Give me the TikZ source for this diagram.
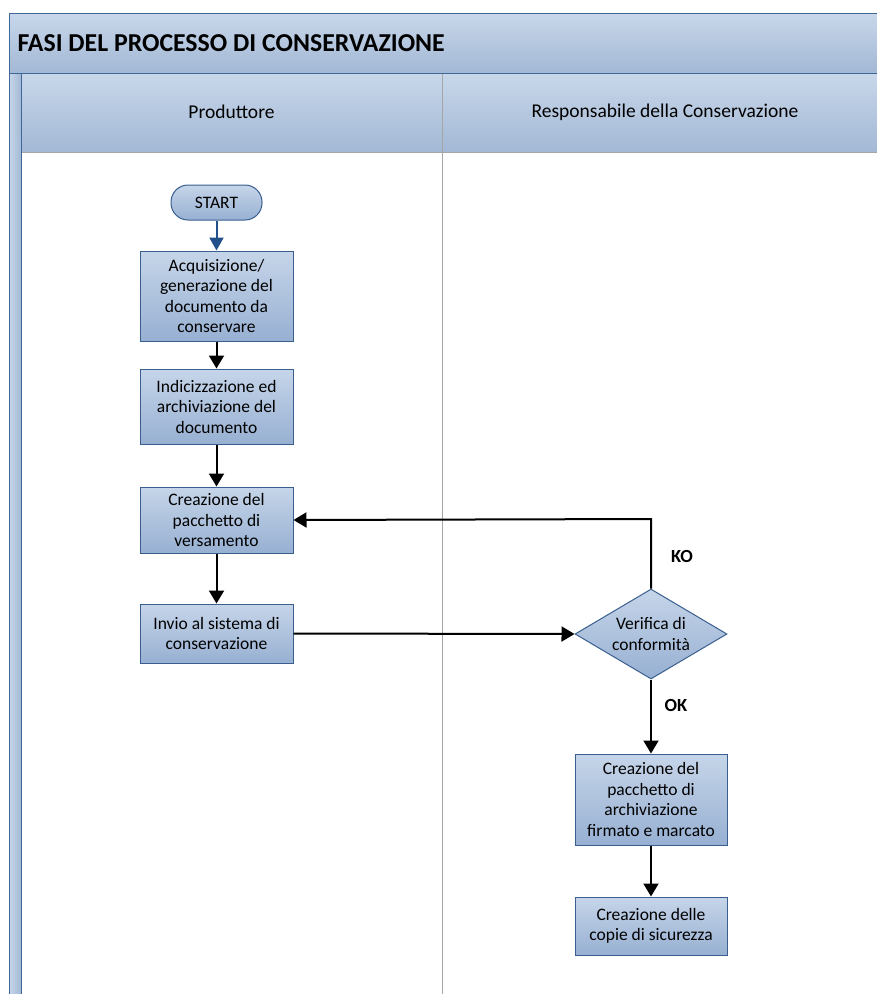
\documentclass[tikz,border=0pt]{standalone}
\usepackage{fontspec}
\setmainfont{Carlito}
\usetikzlibrary{shapes.geometric,arrows.meta}
\definecolor{bandtop}{HTML}{C8D7EA}
\definecolor{bandbot}{HTML}{A3B8D5}
\definecolor{boxtop}{HTML}{C6D5E9}
\definecolor{boxbot}{HTML}{97B0D2}
\definecolor{frameblue}{HTML}{3F6797}
\definecolor{boxedge}{HTML}{3A5F8F}
\definecolor{lanegray}{HTML}{A6A6A6}
\definecolor{startarrow}{HTML}{22508A}
\tikzset{
  bodytext/.style={font=\fontsize{17.5}{20.5}\selectfont},
  procbox/.style={draw=boxedge, line width=1pt, top color=boxtop, bottom color=boxbot,
    minimum width=153pt, align=center, inner sep=1pt, bodytext},
  startbox/.style={draw=boxedge, line width=1pt, top color=boxtop, bottom color=boxbot,
    rounded corners=17pt, minimum width=91pt, minimum height=35pt, bodytext},
  checkbox/.style={diamond, draw=boxedge, line width=1pt, top color=boxtop, bottom color=boxbot,
    minimum width=152pt, minimum height=90pt, inner sep=0pt},
  flow/.style={line width=2pt, -{Triangle[length=13pt,width=15pt]}},
  startflow/.style={draw=startarrow, line width=2pt, -{Triangle[length=13pt,width=14pt]}},
  edgelabel/.style={font=\bfseries\fontsize{18.5}{20}\selectfont},
  lanetext/.style={font=\fontsize{19.5}{22}\selectfont},
}
\begin{document}
\begin{tikzpicture}[x=1pt,y=-1pt]
\useasboundingbox (0,0) rectangle (877,994);
\fill[white] (0,0) rectangle (877,994);
% pool title band
\shade[top color=bandtop, bottom color=bandbot] (9,13) rectangle (880,73);
\node[anchor=west, font=\bfseries\fontsize{25.8}{28}\selectfont] (title) at (14,43) {FASI DEL PROCESSO DI CONSERVAZIONE};
% left strip
\shade[left color=bandtop, right color=bandbot] (9,73) rectangle (21,1000);
% lane headers
\shade[top color=bandtop, bottom color=bandbot] (21,73) rectangle (880,152);
\draw[lanegray, line width=1pt] (21,152) -- (880,152);
\draw[lanegray, line width=1pt] (442,73) -- (442,1000);
\node[lanetext] (laneA) at (231.5,112) {Produttore};
\node[lanetext] (laneB) at (665,112) {Responsabile della Conservazione};
% pool frame
\draw[frameblue, line width=1pt] (9,1000) -- (9,13) -- (880,13);
\draw[frameblue, line width=1pt] (9,73) -- (880,73);
\draw[frameblue, line width=1pt] (21,73) -- (21,1000);
% nodes
\node[startbox] (start) at (216.5,202.5) {START};
\node[procbox, minimum height=90pt] (acq) at (216.5,296) {Acquisizione/\\generazione del\\documento da\\conservare};
\node[procbox, minimum height=75pt] (idx) at (216.5,406.5) {Indicizzazione ed\\archiviazione del\\documento};
\node[procbox, minimum height=66pt] (pdv) at (216.5,520) {Creazione del\\pacchetto di\\versamento};
\node[procbox, minimum height=59pt] (send) at (216.5,633.5) {Invio al sistema di\\conservazione};
\node[checkbox, label={[bodytext, align=center]center:Verifica di\\conformità}] (check) at (651,634) {};
\node[procbox, minimum width=152pt, minimum height=91pt] (pda) at (651,799.5) {Creazione del\\pacchetto di\\archiviazione\\firmato e marcato};
\node[procbox, minimum width=152pt, minimum height=58pt] (copy) at (651,926) {Creazione delle\\copie di sicurezza};
\coordinate (koturn) at (651,519);
% connectors
\draw[startflow] (start) -- (acq);
\draw[flow] (acq) -- (idx);
\draw[flow] (idx) -- (pdv);
\draw[flow] (pdv) -- (send);
\draw[flow] (send.east) -- (check.west);
\draw[flow] (check.north) -- (koturn) -- (pdv.east);
\draw[flow] (check.south) -- (pda.north);
\draw[flow] (pda) -- (copy);
\node[edgelabel] (ko) at (682,556) {KO};
\node[edgelabel] (ok) at (676,705) {OK};
\end{tikzpicture}
\end{document}
